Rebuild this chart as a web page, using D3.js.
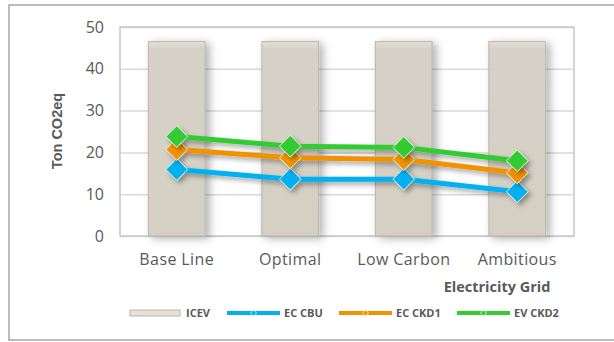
<!DOCTYPE html>
<html>
<head>
<meta charset="utf-8">
<script src="https://cdn.jsdelivr.net/npm/d3@7"></script>
<style>
  html, body { margin: 0; padding: 0; background: #fff; }
  svg { display: block; font-family: "Open Sans", "Noto Sans", sans-serif; }
</style>
</head>
<body>
<svg id="chart" width="614" height="342"></svg>
<script>
// Electricity grid scenarios
const categories = ["Base Line", "Optimal", "Low Carbon", "Ambitious"];
// ICEV emissions (bars)
const icev = [46.5, 46.5, 46.5, 46.5];
// Electric vehicle emissions (lines)
const ecCbu  = [15.9, 13.6, 13.6, 10.6];
const ecCkd1 = [20.7, 18.7, 18.3, 15.1];
const evCkd2 = [23.8, 21.5, 21.2, 18.0];
const yTicks = [0, 10, 20, 30, 40, 50];

const lineSeries = [
  { name: "EC CBU",  values: ecCbu,  color: "#00b0f0" },
  { name: "EC CKD1", values: ecCkd1, color: "#f39200" },
  { name: "EV CKD2", values: evCkd2, color: "#33cc33" }
];

const svg = d3.select("#chart");
const W = 614, H = 342;
const plot = { left: 120, right: 574, top: 27, bottom: 236 };

const defs = svg.append("defs");
const shadow = defs.append("filter").attr("id", "shadow")
  .attr("x", "-30%").attr("y", "-30%").attr("width", "160%").attr("height", "160%");
shadow.append("feDropShadow").attr("dx", 3).attr("dy", 3)
  .attr("stdDeviation", 2.5).attr("flood-color", "#000").attr("flood-opacity", 0.35);
const barShadow = defs.append("filter").attr("id", "barShadow")
  .attr("x", "-30%").attr("y", "-10%").attr("width", "170%").attr("height", "120%");
barShadow.append("feDropShadow").attr("dx", 4).attr("dy", 2)
  .attr("stdDeviation", 4).attr("flood-color", "#000").attr("flood-opacity", 0.3);
const barGrad = defs.append("linearGradient").attr("id", "barGrad")
  .attr("x1", 0).attr("y1", 0).attr("x2", 0).attr("y2", 1);
barGrad.append("stop").attr("offset", "0%").attr("stop-color", "#e4e0d6");
barGrad.append("stop").attr("offset", "4%").attr("stop-color", "#d6d2c7");
barGrad.append("stop").attr("offset", "100%").attr("stop-color", "#d4d0c4");

// Outer chart frame
svg.append("rect")
  .attr("x", 9).attr("y", 5).attr("width", W).attr("height", 335)
  .attr("fill", "#fff").attr("stroke", "#a6a6a6").attr("stroke-width", 1.5);

const x = d3.scaleBand().domain(categories)
  .range([plot.left, plot.right]).paddingInner(0.5).paddingOuter(0.25);
const y = d3.scaleLinear().domain([0, 50]).range([plot.bottom, plot.top]);

// Horizontal gridlines
svg.append("g")
  .attr("transform", `translate(${plot.left},0)`)
  .call(d3.axisLeft(y).tickValues(yTicks).tickSize(-(plot.right - plot.left)).tickFormat(""))
  .call(g => g.select(".domain").remove())
  .call(g => g.selectAll("line").attr("stroke", "#d9d9d9").attr("stroke-width", 1.5));

// Plot area border
svg.append("rect")
  .attr("x", plot.left).attr("y", plot.top)
  .attr("width", plot.right - plot.left).attr("height", plot.bottom - plot.top)
  .attr("fill", "none").attr("stroke", "#c8c8c8").attr("stroke-width", 1.5);

// ICEV bars
svg.append("g").selectAll("rect").data(icev).join("rect")
  .attr("x", (d, i) => x(categories[i]))
  .attr("y", d => y(d))
  .attr("width", x.bandwidth())
  .attr("height", d => y(0) - y(d))
  .attr("fill", "url(#barGrad)")
  .attr("stroke", "#b9b5aa").attr("stroke-width", 1)
  .attr("filter", "url(#barShadow)");

// Y tick labels
svg.append("g")
  .attr("transform", `translate(${plot.left},0)`)
  .call(d3.axisLeft(y).tickValues(yTicks).tickSize(0).tickPadding(16))
  .call(g => g.select(".domain").remove())
  .call(g => g.selectAll("text")
    .attr("font-size", 16).attr("fill", "#595959")
    .attr("font-family", "'Open Sans', sans-serif"));

// Category labels
svg.append("g")
  .attr("transform", `translate(0,${plot.bottom})`)
  .call(d3.axisBottom(x).tickSize(0).tickPadding(18))
  .call(g => g.select(".domain").remove())
  .call(g => g.selectAll("text")
    .attr("font-size", 16).attr("fill", "#595959")
    .attr("letter-spacing", "0.4px")
    .attr("font-family", "'Open Sans', sans-serif"));

// Axis titles
svg.append("text")
  .attr("x", 497).attr("y", 292).attr("text-anchor", "middle")
  .attr("font-size", 14.5).attr("font-weight", "bold").attr("fill", "#595959")
  .text("Electricity Grid");
svg.append("text")
  .attr("transform", "translate(62,131) rotate(-90)").attr("text-anchor", "middle")
  .attr("font-family", "'Liberation Sans', Arial, sans-serif")
  .attr("font-size", 14.5).attr("font-weight", "bold").attr("fill", "#595959")
  .text("Ton CO2eq");

// Lines with diamond markers
const cx = c => x(c) + x.bandwidth() / 2;
const line = d3.line().x((d, i) => cx(categories[i])).y(d => y(d));
const diamond = d3.symbol().type(d3.symbolDiamond2).size(300);

lineSeries.forEach(s => {
  const g = svg.append("g").attr("filter", "url(#shadow)");
  g.append("path").datum(s.values)
    .attr("d", line).attr("fill", "none")
    .attr("stroke", s.color).attr("stroke-width", 5);
  g.selectAll("path.m").data(s.values).join("path").attr("class", "m")
    .attr("transform", (d, i) => `translate(${cx(categories[i])},${y(d)})`)
    .attr("d", diamond)
    .attr("fill", s.color).attr("stroke", "#e8f4e8").attr("stroke-width", 1);
});

// Legend
const legY = 313;
const leg = svg.append("g").attr("font-size", 11).attr("font-weight", "bold").attr("fill", "#595959");
leg.append("rect").attr("x", 130).attr("y", legY - 3).attr("width", 50).attr("height", 6)
  .attr("fill", "#e6e2d9").attr("stroke", "#b9b5aa").attr("stroke-width", 1);
leg.append("text").attr("x", 186).attr("y", legY + 4).text("ICEV");

const legX = [227, 339, 457];
const smallDiamond = d3.symbol().type(d3.symbolDiamond2).size(24);
lineSeries.forEach((s, i) => {
  const x0 = legX[i];
  leg.append("line").attr("x1", x0).attr("x2", x0 + 53)
    .attr("y1", legY).attr("y2", legY)
    .attr("stroke", s.color).attr("stroke-width", 4);
  leg.append("path").attr("transform", `translate(${x0 + 26.5},${legY})`)
    .attr("d", smallDiamond).attr("fill", s.color).attr("stroke", "#fff").attr("stroke-width", 0.7);
  leg.append("text").attr("x", x0 + 57).attr("y", legY + 4).text(s.name);
});
</script>
</body>
</html>
